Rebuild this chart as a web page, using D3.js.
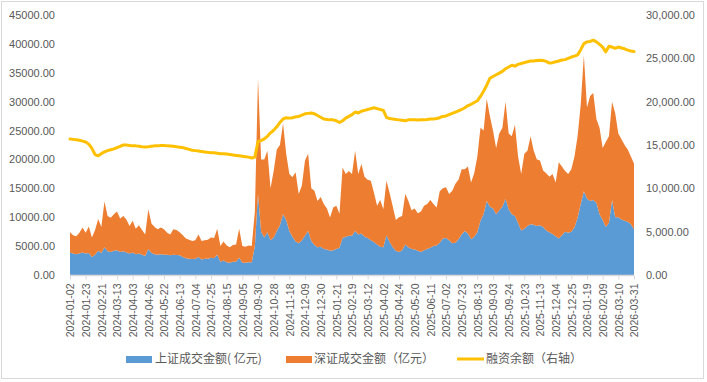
<!DOCTYPE html>
<html><head><meta charset="utf-8">
<script src="https://cdn.jsdelivr.net/npm/d3@7"></script>
<style>body{margin:0;background:#fff}svg{display:block}</style>
</head><body>
<svg id="chart" width="707" height="382"></svg>
<script>
// x-axis tick labels (one every 5 samples; samples are every 3 trading days)
const tickLabels = ["2024-01-02","2024-01-23","2024-02-21","2024-03-13","2024-04-03","2024-04-26","2024-05-22","2024-06-13","2024-07-04","2024-07-25","2024-08-15","2024-09-05","2024-09-30","2024-10-28","2024-11-18","2024-12-09","2024-12-30","2025-01-21","2025-02-19","2025-03-12","2025-04-02","2025-04-24","2025-05-20","2025-06-11","2025-07-02","2025-07-23","2025-08-13","2025-09-03","2025-09-24","2025-10-23","2025-11-13","2025-12-04","2025-12-25","2026-01-19","2026-02-09","2026-03-10","2026-03-31"];

// 上证成交金额(亿元)
const shTurnover = [3900,3700,3600,3700,3900,3700,3800,3100,3500,4200,3800,4800,4100,4000,4200,4300,4000,4100,3900,3700,3900,3600,3700,3500,3300,4500,3800,3600,3500,3600,3500,
3500,3400,3500,3450,3400,3100,2900,2800,2750,2800,3100,2700,2800,2800,3000,2900,3500,2300,2500,2200,2100,2300,2300,3000,2100,2100,2200,2200,5000,14000,
7500,6500,7400,6000,6500,7600,8600,10500,9500,7600,6600,5800,5500,6000,6800,7600,5900,5200,4800,4900,4500,4400,4200,4300,4500,4700,6400,6600,6800,6800,
7600,7000,7200,6600,6400,6000,5700,5300,4900,4800,6900,5700,4800,4200,4000,4300,5300,4800,4500,4400,4200,4000,4300,4500,4700,5000,5100,5600,6300,6400,
6000,5500,5600,6200,7000,7600,7200,6200,6600,7400,9400,10500,12800,11800,11500,10500,11200,11800,13200,11400,10500,10200,9000,7700,8000,8500,8800,8700,8500,8600,
8300,7700,7400,7100,6700,6300,6900,7500,7300,7500,8200,9900,12300,14500,13200,12800,13000,12500,10500,9500,8300,9000,13000,10000,10000,9600,9400,9200,8800,7900];

// 深证成交金额(亿元)
const szTurnover = [3500,3200,3100,3600,4300,3600,4600,3400,4300,5500,4500,7900,6100,5900,6300,6700,5800,6100,5700,4800,5500,4400,4900,4300,3700,6900,5100,4700,4400,4600,4400,
3800,3600,4400,4350,4000,3800,3400,3300,3150,3200,3900,3200,3200,3300,3500,3500,4500,2700,3300,2900,2700,2900,3000,5000,2900,2800,2900,2800,6000,20000,
12500,13500,14100,9000,11500,14100,13900,15700,11500,9900,10300,12000,8500,9500,13000,13400,9100,9400,8000,8600,7800,7100,5750,7400,7500,5900,12200,10900,11200,10700,
13900,10500,12000,10400,10100,10300,8600,6700,8100,6600,9400,8500,7100,5300,6000,5900,8700,8000,6700,7100,6500,7000,7700,7800,8300,7300,6600,8900,8700,8800,
8000,9100,10200,10300,11300,10700,11600,9800,11000,13100,16100,14500,17700,15700,13500,11500,13300,13700,16800,13100,13500,15800,11500,9800,13000,13000,15200,12800,11500,11200,
9800,9900,9600,10400,9300,13200,11900,10500,10200,10800,12300,14100,17200,23500,15800,18200,18500,14500,15000,12500,14700,15000,17000,18000,14500,13900,13100,12500,11700,11400];

// 融资余额(亿元，右轴)
const marginBalance = [15700,15650,15600,15550,15450,15350,15100,14600,13900,13750,14000,14200,14350,14450,14550,14700,14850,15000,15000,14950,14900,14900,14850,14800,14780,14800,14850,14900,14900,14950,14950,
14900,14880,14850,14800,14750,14700,14600,14500,14400,14350,14300,14250,14200,14150,14100,14100,14050,14000,13980,13950,13900,13850,13800,13750,13700,13650,13600,13500,13600,15400,
15500,15700,16000,16400,16700,17100,17600,18000,18150,18100,18150,18250,18300,18450,18600,18650,18700,18600,18400,18200,18000,17950,17900,17900,17800,17600,17800,18100,18300,18500,
18800,18700,18900,19000,19100,19200,19300,19200,19100,19000,18200,18050,18000,17950,17900,17850,17800,17900,17900,17900,17880,17900,17900,17950,18000,18000,18050,18150,18300,18350,
18500,18650,18800,18950,19100,19300,19550,19700,19900,20100,20600,21200,21900,22700,22900,23100,23300,23500,23800,24000,24200,24100,24300,24400,24500,24600,24700,24700,24750,24780,
24750,24650,24450,24500,24600,24700,24800,24850,25000,25150,25250,25400,26000,26700,26900,26950,27100,26900,26600,26300,25750,26400,26300,26150,26300,26200,26100,25950,25850,25780];

const leftTicks = [0,5000,10000,15000,20000,25000,30000,35000,40000,45000];
const rightTicks = [0,5000,10000,15000,20000,25000,30000];
const seriesNames = ["上证成交金额( 亿元)","深证成交金额（亿元）","融资余额（右轴）"];
const colors = {sh:"#5B9BD5", sz:"#ED7D31", margin:"#FFC000"};

const svg = d3.select("#chart");
const font = "'Liberation Sans', Arial, 'Noto Sans CJK SC', sans-serif";
const cjk = "'Noto Sans CJK SC', 'Liberation Sans', sans-serif";

svg.append("rect").attr("x",1.5).attr("y",1.5).attr("width",702).attr("height",377)
  .attr("fill","#fff").attr("stroke","#D9D9D9").attr("stroke-width",1);

const n = shTurnover.length;
const x = d3.scaleLinear().domain([0, n-1]).range([70, 634]);
const yL = d3.scaleLinear().domain([0, 45000]).range([275, 15]);
const yR = d3.scaleLinear().domain([0, 30000]).range([275, 15]);

const rows = shTurnover.map((v,i)=>({i, sh:v, sz:szTurnover[i]}));
const stacked = d3.stack().keys(["sh","sz"])(rows);
const area = d3.area().x(d=>x(d.data.i)).y0(d=>yL(d[0])).y1(d=>yL(d[1]));

svg.append("g").selectAll("path").data(stacked).join("path")
  .attr("d", area).attr("fill", d=>colors[d.key]);

// bottom axis line + ticks
svg.append("line").attr("x1",70).attr("x2",634).attr("y1",275.5).attr("y2",275.5)
  .attr("stroke","#D9D9D9").attr("stroke-width",1.5);
const xAxis = d3.axisBottom(x)
  .tickValues(d3.range(0, n, 5))
  .tickFormat(i => tickLabels[Math.round(i/5)])
  .tickSize(4).tickPadding(3);
const gx = svg.append("g").attr("transform","translate(0,275.5)").call(xAxis);
gx.select(".domain").remove();
gx.selectAll(".tick line").attr("stroke","#D9D9D9");
gx.selectAll(".tick text")
  .attr("transform","rotate(-90)")
  .attr("text-anchor","end")
  .attr("x",-8).attr("y",0).attr("dy","0.35em")
  .attr("fill","#595959").style("font-family",font).style("font-size","10.5px");

// left axis
const gl = svg.append("g").attr("transform","translate(58,0)")
  .call(d3.axisLeft(yL).tickValues(leftTicks).tickFormat(d3.format(".2f")).tickSize(0).tickPadding(3));
gl.select(".domain").remove();
gl.selectAll("text").attr("fill","#595959").style("font-family",font).style("font-size","11px");

// right axis
const gr = svg.append("g").attr("transform","translate(643,0)")
  .call(d3.axisRight(yR).tickValues(rightTicks).tickFormat(d3.format(",.2f")).tickSize(0).tickPadding(3));
gr.select(".domain").remove();
gr.selectAll("text").attr("fill","#595959").style("font-family",font).style("font-size","11px");

// margin line
const line = d3.line().x((d,i)=>x(i)).y(d=>yR(d));
svg.append("path").datum(marginBalance).attr("d", line)
  .attr("fill","none").attr("stroke",colors.margin).attr("stroke-width",3)
  .attr("stroke-linejoin","round").attr("stroke-linecap","round");

// legend
const lg = svg.append("g");
lg.append("rect").attr("x",126).attr("y",356).attr("width",26).attr("height",7).attr("fill",colors.sh);
lg.append("text").attr("x",155).attr("y",359).attr("dy","0.35em").text(seriesNames[0]);
lg.append("rect").attr("x",286).attr("y",356).attr("width",26).attr("height",7).attr("fill",colors.sz);
lg.append("text").attr("x",314).attr("y",359).attr("dy","0.35em").text(seriesNames[1]);
lg.append("line").attr("x1",457).attr("x2",484).attr("y1",359).attr("y2",359)
  .attr("stroke",colors.margin).attr("stroke-width",3);
lg.append("text").attr("x",486).attr("y",359).attr("dy","0.35em").text(seriesNames[2]);
lg.selectAll("text").attr("fill","#595959").style("font-family",cjk).style("font-size","12px");
</script>
</body></html>
